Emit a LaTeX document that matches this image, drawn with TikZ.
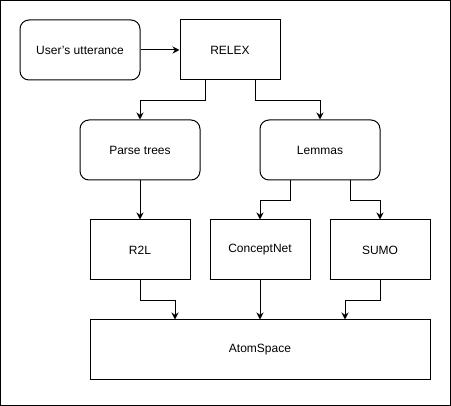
\documentclass[tikz,border=0pt]{standalone}
\usepackage{fontspec}
\setmainfont{Liberation Sans}
\usetikzlibrary{arrows.meta}
\begin{document}
\begin{tikzpicture}[x=1pt,y=-1pt,line width=1pt,
  box/.style={draw,minimum width=100pt,minimum height=60pt,inner sep=0pt,font=\fontsize{12pt}{14pt}\selectfont},
  rbox/.style={box,rounded corners=9pt,minimum width=120pt},
  arr/.style={-{Stealth[length=7pt,width=7pt]}}]
\useasboundingbox (0,0) rectangle (451,406);
\draw (0.5,0.5) rectangle (450.5,405.5);
\node[rbox] (user) at (80,50) {User{\char39}s utterance};
\node[box] (relex) at (230,50) {RELEX};
\node[rbox] (parse) at (140,150) {Parse trees};
\node[rbox] (lemmas) at (320,150) {Lemmas};
\node[box] (r2l) at (140,250) {R2L};
\node[box] (cnet) at (260,250) {ConceptNet};
\node[box] (sumo) at (380,250) {SUMO};
\node[box,minimum width=340pt] (atom) at (260,350) {AtomSpace};
\draw[arr] (user) -- (relex);
\draw[arr] ([xshift=-25pt]relex.south) -- ++(0,20) -| (parse.north);
\draw[arr] ([xshift=25pt]relex.south) -- ++(0,20) -| (lemmas.north);
\draw[arr] (parse) -- (r2l);
\draw[arr] ([xshift=-30pt]lemmas.south) -- ++(0,20) -| (cnet.north);
\draw[arr] ([xshift=30pt]lemmas.south) -- ++(0,20) -| (sumo.north);
\draw[arr] (r2l.south) -- ++(0,20) -| ([xshift=-85pt]atom.north);
\draw[arr] (cnet) -- (atom.north);
\draw[arr] (sumo.south) -- ++(0,20) -| ([xshift=85pt]atom.north);
\end{tikzpicture}
\end{document}
